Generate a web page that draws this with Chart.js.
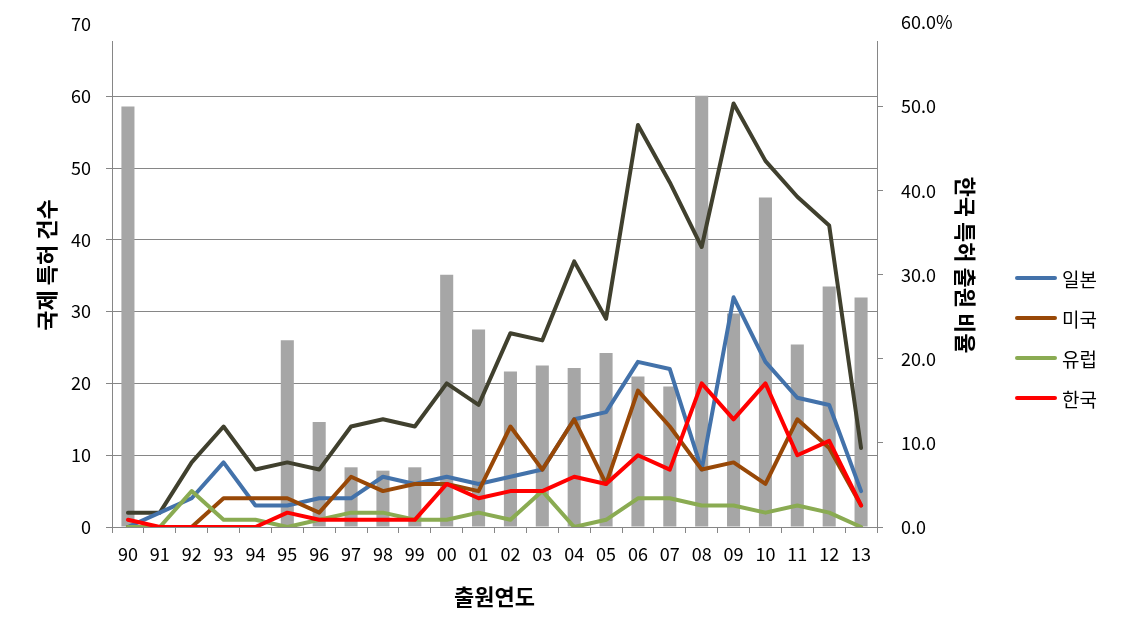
<!DOCTYPE html>
<html>
<head>
<meta charset="utf-8">
<script src="https://cdn.jsdelivr.net/npm/chart.js@4/dist/chart.umd.min.js"></script>
<style>
	body { margin: 0; background: #fff; }
	#wrap { position: relative; width: 1136px; height: 637px; }
	#legend {
		position: absolute; left: 1015px; top: 258px;
		font-family: "Noto Sans CJK KR", "Noto Sans", sans-serif;
		font-size: 19px; color: #000;
	}
	.item { display: flex; align-items: center; height: 40px; }
	.swatch { width: 42px; height: 4px; border-radius: 2px; margin-right: 5px; }
</style>
</head>
<body>
<div id="wrap">
	<canvas id="myChart" width="1136" height="637"></canvas>
	<div id="legend"></div>
</div>
<script>
const years = ["90", "91", "92", "93", "94", "95", "96", "97", "98", "99", "00", "01",
	"02", "03", "04", "05", "06", "07", "08", "09", "10", "11", "12", "13"];

// 국제 특허 건수 (left axis)
const totalCounts = [2, 2, 9, 14, 8, 9, 8, 14, 15, 14, 20, 17, 27, 26, 37, 29, 56, 48, 39, 59, 51, 46, 42, 11];
const japanCounts = [0, 2, 4, 9, 3, 3, 4, 4, 7, 6, 7, 6, 7, 8, 15, 16, 23, 22, 8, 32, 23, 18, 17, 5];
const usaCounts = [0, 0, 0, 4, 4, 4, 2, 7, 5, 6, 6, 5, 14, 8, 15, 6, 19, 14, 8, 9, 6, 15, 11, 3];
const europeCounts = [0, 0, 5, 1, 1, 0, 1, 2, 2, 1, 1, 2, 1, 5, 0, 1, 4, 4, 3, 3, 2, 3, 2, 0];
const koreaCounts = [1, 0, 0, 0, 0, 2, 1, 1, 1, 1, 6, 4, 5, 5, 7, 6, 10, 8, 20, 15, 20, 10, 12, 3];

// 한국 특허 출원 비율 (right axis, %)
const koreaShare = [50.0, 0, 0, 0, 0, 22.2, 12.5, 7.1, 6.7, 7.1, 30.0, 23.5,
	18.5, 19.2, 18.9, 20.7, 17.9, 16.7, 51.3, 25.4, 39.2, 21.7, 28.6, 27.3];

// top tick labels sit above the plot area in the original
const leftTopTick = 70;
const rightTopTick = 60;
const rightTopLabel = "60.0%";

const leftTitle = "국제 특허 건수";
const rightTitle = "한국 특허 출원 비율";
const bottomTitle = "출원연도";

const FONT = '"Noto Sans CJK KR", "Noto Sans", sans-serif';
const axisGray = "#868686";

Chart.defaults.font.family = FONT;
Chart.defaults.color = "#000";

function line({label, color, data, order}) {
	return {
		type: "line",
		label,
		data,
		yAxisID: "y",
		borderColor: color,
		backgroundColor: color,
		borderWidth: 4,
		pointRadius: 0,
		tension: 0,
		borderJoinStyle: "round",
		borderCapStyle: "round",
		order
	};
}

const datasets = [
	{
		type: "bar",
		label: "한국 특허 출원 비율",
		data: koreaShare,
		yAxisID: "y1",
		backgroundColor: "#A6A6A6",
		barPercentage: 0.41,
		categoryPercentage: 1,
		order: 10,
		inLegend: false
	},
	{ ...line({ label: "전체", color: "#40402E", data: totalCounts, order: 6 }), inLegend: false },
	line({ label: "일본", color: "#4372AA", data: japanCounts, order: 4 }),
	line({ label: "미국", color: "#984807", data: usaCounts, order: 3 }),
	line({ label: "유럽", color: "#8AAB52", data: europeCounts, order: 2 }),
	line({ label: "한국", color: "#FF0000", data: koreaCounts, order: 1 })
];

// the y titles sit a bit above the plot centre and the top ticks above the plot,
// so they are drawn here rather than by the scales
const axisExtras = {
	id: "axisExtras",
	afterDraw(chart) {
		const { ctx, chartArea, scales: { y, y1 } } = chart;
		const midY = (chartArea.top + chartArea.bottom) / 2 - 19;
		ctx.save();
		ctx.fillStyle = "#000";
		ctx.textBaseline = "middle";

		ctx.font = "18px " + FONT;
		ctx.textAlign = "right";
		ctx.fillText(String(leftTopTick), y.right - 21, y.getPixelForValue(leftTopTick));
		ctx.textAlign = "left";
		ctx.fillText(rightTopLabel, y1.left + 24, y1.getPixelForValue(rightTopTick));

		ctx.font = "bold 22px " + FONT;
		ctx.textAlign = "center";
		ctx.save();
		ctx.translate(y.left + 47, midY);
		ctx.rotate(-Math.PI / 2);
		ctx.fillText(leftTitle, 0, 0);
		ctx.restore();
		ctx.save();
		ctx.translate(y1.left + 88, midY);
		ctx.rotate(Math.PI / 2);
		ctx.fillText(rightTitle, 0, 0);
		ctx.restore();
		ctx.restore();
	}
};

const ctx = document.getElementById("myChart").getContext("2d");
const myChart = new Chart(ctx, {
	type: "bar",
	data: { labels: years, datasets },
	options: {
		responsive: false,
		animation: false,
		layout: { padding: { left: 0, right: 150, top: 41, bottom: 0 } },
		plugins: {
			legend: { display: false },
			tooltip: { enabled: false }
		},
		scales: {
			x: {
				type: "category",
				offset: true,
				grid: { offset: true, drawOnChartArea: false, tickLength: 6, color: axisGray },
				border: { color: axisGray, width: 1 },
				ticks: { padding: 10, font: { size: 18 }, maxRotation: 0, autoSkip: false },
				title: {
					display: true,
					text: bottomTitle,
					font: { size: 22, weight: "bold" },
					padding: { top: 0, bottom: 27 }
				},
				afterFit: scale => { scale.height = 110; }
			},
			y: {
				position: "left",
				min: 0,
				max: 67.7,
				grid: { color: axisGray, tickLength: 6 },
				border: { color: axisGray, width: 1 },
				ticks: { stepSize: 10, includeBounds: false, padding: 15, font: { size: 18 } },
				afterFit: scale => { scale.width = 112; }
			},
			y1: {
				position: "right",
				min: 0,
				max: 57.8,
				grid: { drawOnChartArea: false, color: axisGray, tickLength: 6 },
				border: { color: axisGray, width: 1 },
				ticks: {
					stepSize: 10, includeBounds: false, padding: 18, font: { size: 18 },
					callback: value => value.toFixed(1)
				},
				afterFit: scale => { scale.width = 109; }
			}
		}
	},
	plugins: [axisExtras]
});

// legend for the four country series
const legendEl = document.getElementById("legend");
datasets.filter(ds => ds.inLegend !== false).forEach(ds => {
	const item = document.createElement("div");
	item.className = "item";
	item.innerHTML = `<span class="swatch" style="background:${ds.borderColor}"></span><span>${ds.label}</span>`;
	legendEl.appendChild(item);
});
</script>
</body>
</html>
